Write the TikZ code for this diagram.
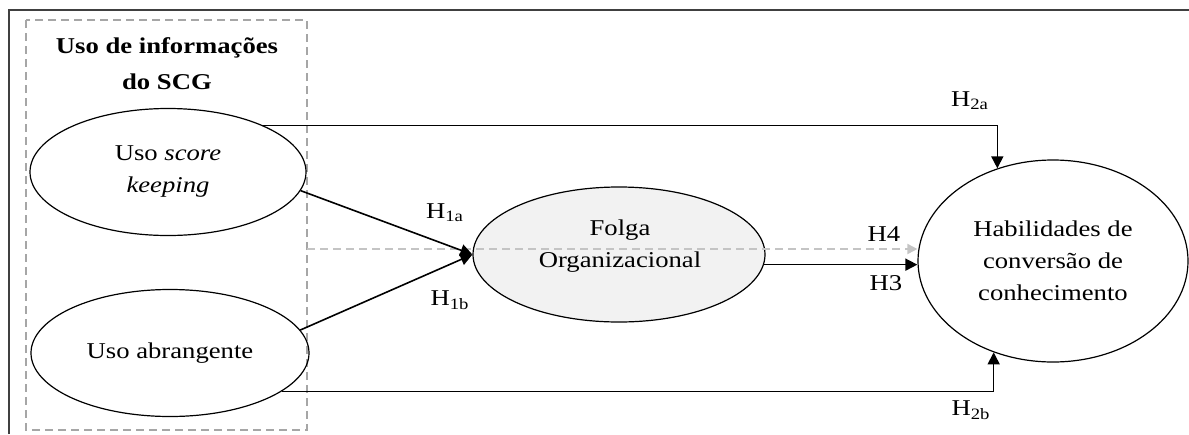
\documentclass[tikz,border=0pt]{standalone}
\usepackage{fontspec}
\setmainfont{Liberation Serif}[FakeStretch=1.18]
\usetikzlibrary{arrows.meta,shapes.geometric}
\definecolor{boxgray}{HTML}{A6A6A6}
\definecolor{linegray}{HTML}{C4C4C4}
\definecolor{folgafill}{HTML}{F2F2F2}
\begin{document}
\begin{tikzpicture}[x=0.5pt,y=-0.5pt,
  every node/.style={font=\fontsize{11.3pt}{16pt}\selectfont},
  el/.style={ellipse,draw,line width=0.6pt,inner sep=0pt,align=center},
  conn/.style={draw,line width=0.8pt,-{Triangle[length=6pt,width=6pt]}},
  grayconn/.style={draw=linegray,line width=1pt,dash pattern=on 4pt off 2.5pt,-{Triangle[length=5pt,width=5pt]}},
  groupbox/.style={draw=boxgray,line width=0.7pt,dash pattern=on 4pt off 2.5pt},
  hlabel/.style={inner sep=0pt},
  txt/.style={inner sep=0pt,align=center}]
\useasboundingbox (0,0) rectangle (1189,434);
% outer frame (cropped at right and bottom)
\draw[line width=1pt,black!75] (9,434) -- (9,10) -- (1189,10);
% dashed group box
\draw[groupbox] (26,20) rectangle (307,430);
\node[txt,font=\fontsize{11.3pt}{18pt}\selectfont\bfseries] (title) at (167,64) {Uso de informações\\do SCG};
% ellipses
\node[el,minimum width=138pt,minimum height=63.5pt] (e1) at (168,172) {Uso \textit{score}\\\textit{keeping}};
\node[el,minimum width=139pt,minimum height=63.5pt] (e2) at (170,353) {Uso abrangente};
\node[el,fill=folgafill,minimum width=146pt,minimum height=67.5pt] (folga) at (619,254.5) {};
\node[txt] (folgat) at (620,246) {Folga\\Organizacional};
\node[el,minimum width=135pt,minimum height=101pt] (hab) at (1053,261) {Habilidades de\\conversão de\\conhecimento};
% connectors
\coordinate (h4s) at (307,249);
\draw[grayconn] (h4s) -- (h4s -| hab.west);
\draw[conn] (e1.-8) -- (folga.west);
\draw[conn] (e2.10) -- (folga.west);
\draw[conn] (e1.26) -| (hab.121);
\draw[conn] (e2.-19) -| (hab.237);
\draw[conn] (folga.-4) -- (folga.-4 -| hab.west);
% labels
\node[hlabel] (l1a) at (445,213) {H\textsubscript{1a}};
\node[hlabel] (l1b) at (450,300) {H\textsubscript{1b}};
\node[hlabel] (l2a) at (970,101) {H\textsubscript{2a}};
\node[hlabel] (l2b) at (971,410) {H\textsubscript{2b}};
\node[hlabel] (l4) at (884,234) {H4};
\node[hlabel] (l3) at (886,283) {H3};
\end{tikzpicture}
\end{document}
